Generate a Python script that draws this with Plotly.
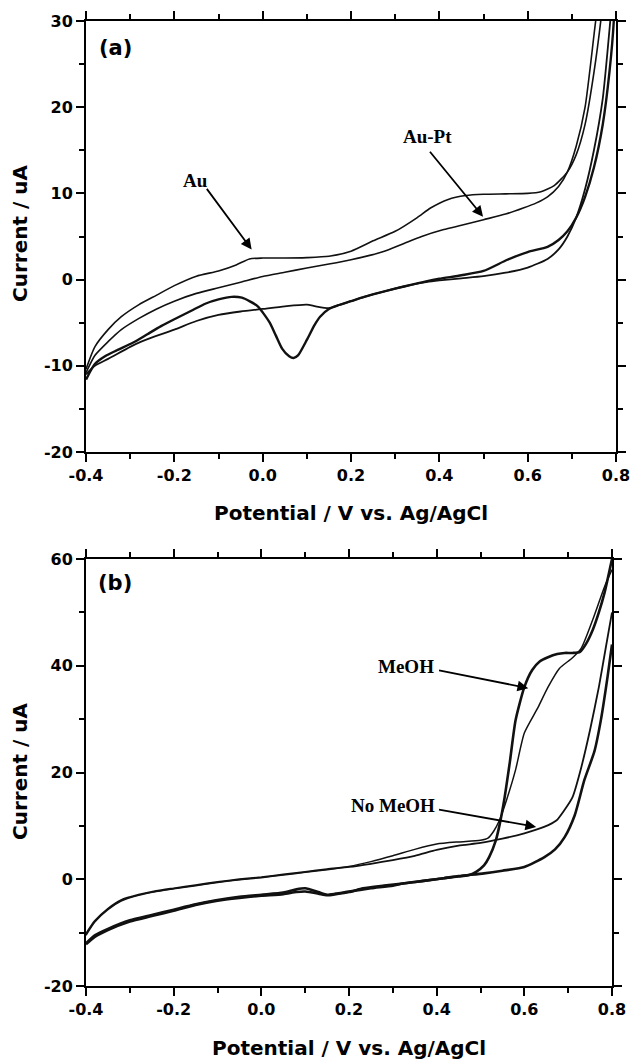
import plotly.graph_objects as go

# ---------------- Panel (a): Au and Au-Pt CVs ----------------
au_fwd_x = [-0.4, -0.38, -0.35, -0.32, -0.28, -0.24, -0.2, -0.15, -0.1, -0.06, -0.03, 0.0, 0.05, 0.1, 0.15,
            0.2, 0.25, 0.3, 0.35, 0.38, 0.42, 0.46, 0.5, 0.55, 0.6, 0.63, 0.66, 0.69, 0.71, 0.73, 0.75, 0.77, 0.8]
au_fwd_y = [-10.4, -7.8, -5.8, -4.3, -2.9, -1.8, -0.7, 0.4, 1.0, 1.7, 2.4, 2.5, 2.5, 2.55, 2.7,
            3.3, 4.5, 5.6, 7.2, 8.3, 9.3, 9.75, 9.9, 9.95, 10.0, 10.2, 10.9, 12.5, 14.5, 18.0, 24.0, 32.0, 48.0]

au_rev_x = [0.8, 0.795, 0.785, 0.77, 0.75, 0.73, 0.71, 0.69, 0.67, 0.645, 0.6, 0.554, 0.5, 0.45, 0.4, 0.37,
            0.32, 0.28, 0.23, 0.2, 0.17, 0.15, 0.13, 0.117, 0.1, 0.08, 0.07, 0.06, 0.044, 0.03, 0.016, 0.0,
            -0.011, -0.03, -0.047, -0.07, -0.1, -0.13, -0.157, -0.2, -0.23, -0.26, -0.293, -0.33, -0.357,
            -0.38, -0.4]
au_rev_y = [40.0, 30.0, 24.0, 18.0, 13.0, 9.6, 7.2, 5.6, 4.6, 3.8, 3.2, 2.3, 1.0, 0.5, 0.1, -0.2,
            -0.8, -1.3, -2.0, -2.5, -3.0, -3.4, -4.3, -5.3, -7.0, -8.8, -9.1, -8.9, -8.0, -6.5, -5.0, -3.8,
            -3.1, -2.5, -2.1, -2.0, -2.3, -2.8, -3.5, -4.6, -5.4, -6.3, -7.3, -8.2, -8.9,
            -9.8, -11.6]

aupt_fwd_x = [-0.4, -0.38, -0.35, -0.32, -0.28, -0.24, -0.2, -0.15, -0.1, -0.05, 0.0, 0.05, 0.1, 0.15, 0.2,
              0.27, 0.32, 0.36, 0.41, 0.45, 0.5, 0.55, 0.59, 0.62, 0.645, 0.67, 0.69, 0.71, 0.73, 0.754,
              0.78, 0.8]
aupt_fwd_y = [-10.8, -8.8, -7.2, -5.8, -4.5, -3.4, -2.5, -1.6, -0.95, -0.3, 0.37, 0.85, 1.35, 1.8, 2.3,
              3.2, 4.2, 5.0, 5.8, 6.3, 6.95, 7.6, 8.3, 8.9, 9.6, 10.8, 12.5, 15.5, 20.0, 30.0,
              40.0, 50.0]

aupt_rev_x = [0.8, 0.787, 0.77, 0.75, 0.73, 0.71, 0.69, 0.67, 0.645, 0.6, 0.55, 0.5, 0.45, 0.4, 0.37,
              0.32, 0.28, 0.23, 0.2, 0.17, 0.15, 0.12, 0.1, 0.05, 0.0, -0.05, -0.1, -0.15, -0.2, -0.25,
              -0.275, -0.3, -0.35, -0.38, -0.4]
aupt_rev_y = [38.0, 30.0, 21.0, 15.0, 10.5, 7.2, 5.0, 3.5, 2.4, 1.4, 0.8, 0.4, 0.15, -0.1, -0.3,
              -0.8, -1.3, -2.0, -2.5, -3.0, -3.3, -3.1, -2.9, -3.1, -3.4, -3.7, -4.1, -4.8, -5.8, -6.7,
              -7.2, -7.8, -9.2, -10.0, -11.0]

# ---------------- Panel (b): MeOH and No MeOH CVs ----------------
nomeoh_fwd_x = [-0.4, -0.38, -0.35, -0.32, -0.28, -0.24, -0.2, -0.15, -0.1, -0.05, 0.0, 0.05, 0.1, 0.15,
                0.2, 0.25, 0.3, 0.35, 0.4, 0.45, 0.5, 0.55, 0.6, 0.645, 0.673, 0.69, 0.71, 0.73, 0.75,
                0.77, 0.785, 0.8]
nomeoh_fwd_y = [-10.2, -7.8, -5.5, -3.9, -2.9, -2.2, -1.7, -1.1, -0.5, 0.0, 0.4, 0.9, 1.4, 1.9,
                2.3, 2.9, 3.6, 4.4, 5.5, 6.3, 6.8, 7.6, 8.6, 9.8, 11.0, 12.8, 15.4, 21.0, 28.0,
                36.0, 43.0, 50.0]

nomeoh_rev_x = [0.8, 0.79, 0.775, 0.76, 0.737, 0.715, 0.692, 0.67, 0.645, 0.6, 0.55, 0.508, 0.45, 0.416,
                0.37, 0.323, 0.28, 0.232, 0.2, 0.17, 0.15, 0.13, 0.1, 0.08, 0.05, 0.0, -0.05, -0.1,
                -0.15, -0.2, -0.25, -0.3, -0.35, -0.38, -0.4]
nomeoh_rev_y = [44.0, 38.0, 30.0, 24.0, 18.6, 12.0, 7.9, 5.6, 4.1, 2.3, 1.6, 1.1, 0.6, 0.2,
                -0.3, -0.8, -1.2, -1.7, -2.4, -2.8, -3.0, -2.7, -2.3, -2.4, -2.8, -3.1, -3.5, -4.0,
                -4.8, -5.9, -6.9, -7.9, -9.5, -10.8, -12.2]

meoh_fwd_x = [-0.4, -0.38, -0.35, -0.32, -0.28, -0.24, -0.2, -0.15, -0.1, -0.05, 0.0, 0.05, 0.1, 0.15,
              0.2, 0.25, 0.3, 0.35, 0.4, 0.45, 0.5, 0.517, 0.53, 0.543, 0.56, 0.58, 0.6, 0.63, 0.654,
              0.68, 0.71, 0.73, 0.756, 0.783, 0.8]
meoh_fwd_y = [-10.5, -8.0, -5.7, -4.1, -3.0, -2.3, -1.8, -1.2, -0.6, -0.1, 0.3, 0.8, 1.3, 1.8,
              2.4, 3.3, 4.4, 5.6, 6.6, 7.0, 7.3, 7.7, 9.0, 11.0, 15.0, 20.5, 27.4, 32.0, 36.0,
              39.5, 41.5, 43.3, 48.6, 54.8, 58.0]

meoh_rev_x = [0.8, 0.783, 0.77, 0.756, 0.74, 0.727, 0.71, 0.692, 0.675, 0.654, 0.635, 0.618, 0.6, 0.58,
              0.567, 0.554, 0.543, 0.535, 0.52, 0.508, 0.49, 0.472, 0.45, 0.416, 0.4, 0.35, 0.323, 0.3,
              0.25, 0.2, 0.17, 0.15, 0.13, 0.1, 0.08, 0.05, 0.0, -0.05, -0.1, -0.15, -0.2, -0.25, -0.3,
              -0.35, -0.38, -0.4]
meoh_rev_y = [60.0, 53.7, 50.0, 46.7, 44.0, 42.6, 42.4, 42.4, 42.2, 41.6, 40.8, 39.2, 36.0, 29.8,
              22.0, 14.8, 10.0, 7.3, 4.2, 2.6, 1.4, 0.75, 0.5, 0.2, 0.0, -0.5, -0.8, -1.2,
              -1.7, -2.3, -2.7, -2.9, -2.4, -1.7, -1.9, -2.5, -2.9, -3.3, -3.9, -4.7, -5.7, -6.7, -7.7,
              -9.3, -10.5, -12.0]

# ---------------- Axis ticks ----------------
x_tickvals = [-0.4, -0.2, 0.0, 0.2, 0.4, 0.6, 0.8]
x_ticktext = ["-0.4", "-0.2", "0.0", "0.2", "0.4", "0.6", "0.8"]
ya_tickvals = [-20, -10, 0, 10, 20, 30]
ya_ticktext = ["-20", "-10", "0", "10", "20", "30"]
yb_tickvals = [-20, 0, 20, 40, 60]
yb_ticktext = ["-20", "0", "20", "40", "60"]

x_title = "Potential / V vs. Ag/AgCl"
y_title = "Current / uA"

LINE = "#111111"
fig = go.Figure()


def add_line(x, y, w, xa, ya):
    fig.add_trace(go.Scatter(x=x, y=y, mode="lines", xaxis=xa, yaxis=ya,
                             line=dict(color=LINE, width=w, shape="spline", smoothing=0.6),
                             showlegend=False, hoverinfo="skip"))


add_line(au_fwd_x, au_fwd_y, 1.6, "x", "y")
add_line(au_rev_x, au_rev_y, 2.4, "x", "y")
add_line(aupt_fwd_x, aupt_fwd_y, 1.6, "x", "y")
add_line(aupt_rev_x, aupt_rev_y, 1.8, "x", "y")

add_line(nomeoh_fwd_x, nomeoh_fwd_y, 1.8, "x2", "y2")
add_line(nomeoh_rev_x, nomeoh_rev_y, 2.6, "x2", "y2")
add_line(meoh_fwd_x, meoh_fwd_y, 1.5, "x2", "y2")
add_line(meoh_rev_x, meoh_rev_y, 2.6, "x2", "y2")

W, H = 633, 1062
XL, XR_A, XR_B = 86, 616, 612
tick_font = dict(family="DejaVu Sans", size=16, color="black", weight="bold")

common_ax = dict(showgrid=False, zeroline=False, showline=True, linecolor="black", linewidth=2,
                 mirror="ticks", ticks="outside", ticklen=8, tickwidth=2, tickcolor="black",
                 tickfont=tick_font, automargin=False, ticklabeloverflow="allow")

fig.update_layout(
    width=W, height=H, autosize=False,
    margin=dict(l=0, r=0, t=0, b=0),
    paper_bgcolor="white", plot_bgcolor="white",
    xaxis=dict(domain=[XL / W, XR_A / W], range=[-0.4, 0.8], tickvals=x_tickvals, ticktext=x_ticktext,
               minor=dict(dtick=0.1, tick0=-0.4, ticks="outside", ticklen=5, tickwidth=1.5, tickcolor="black"),
               anchor="y", **common_ax),
    yaxis=dict(domain=[1 - 452 / H, 1 - 21 / H], range=[-20, 30], tickvals=ya_tickvals, ticktext=ya_ticktext,
               minor=dict(dtick=5, tick0=0, ticks="outside", ticklen=5, tickwidth=1.5, tickcolor="black"),
               anchor="x", **common_ax),
    xaxis2=dict(domain=[XL / W, XR_B / W], range=[-0.4, 0.8], tickvals=x_tickvals, ticktext=x_ticktext,
                minor=dict(dtick=0.1, tick0=-0.4, ticks="outside", ticklen=5, tickwidth=1.5, tickcolor="black"),
                anchor="y2", **common_ax),
    yaxis2=dict(domain=[1 - 986 / H, 1 - 559 / H], range=[-20, 60], tickvals=yb_tickvals, ticktext=yb_ticktext,
                minor=dict(dtick=10, tick0=0, ticks="outside", ticklen=5, tickwidth=1.5, tickcolor="black"),
                anchor="x2", **common_ax),
)

title_font = dict(family="DejaVu Sans", size=20, color="black", weight="bold")
label_font = dict(family="DejaVu Sans", size=21, color="black", weight="bold")
note_font = dict(family="Liberation Serif", size=19, color="black", weight="bold")

annotations = [
    # axis titles
    dict(text=x_title, xref="paper", yref="paper", x=(XL + XR_A) / 2 / W, y=1 - 513 / H,
         xanchor="center", yanchor="middle", showarrow=False, font=title_font),
    dict(text=x_title, xref="paper", yref="paper", x=(XL + XR_B) / 2 / W, y=1 - 1048 / H,
         xanchor="center", yanchor="middle", showarrow=False, font=title_font),
    dict(text=y_title, xref="paper", yref="paper", x=20 / W, y=1 - 234 / H, textangle=-90,
         xanchor="center", yanchor="middle", showarrow=False, font=title_font),
    dict(text=y_title, xref="paper", yref="paper", x=20 / W, y=1 - 772 / H, textangle=-90,
         xanchor="center", yanchor="middle", showarrow=False, font=title_font),
    # panel labels
    dict(text="(a)", xref="x", yref="y", x=-0.334, y=26.9, showarrow=False, font=label_font),
    dict(text="(b)", xref="x2", yref="y2", x=-0.334, y=55.5, showarrow=False, font=label_font),
    # curve labels
    dict(text="Au", xref="x", yref="y", x=-0.152, y=11.5, showarrow=False, font=note_font),
    dict(text="Au-Pt", xref="x", yref="y", x=0.374, y=16.6, showarrow=False, font=note_font),
    dict(text="MeOH", xref="x2", yref="y2", x=0.331, y=39.8, showarrow=False, font=note_font),
    dict(text="No MeOH", xref="x2", yref="y2", x=0.301, y=13.9, showarrow=False, font=note_font),
]

arrow_common = dict(text="", showarrow=True, arrowhead=2, arrowsize=1.2, arrowwidth=1.8,
                    arrowcolor="black", standoff=0, startstandoff=0)
annotations += [
    dict(xref="x", yref="y", axref="x", ayref="y", x=-0.025, y=3.5, ax=-0.129, ay=10.7, **arrow_common),
    dict(xref="x", yref="y", axref="x", ayref="y", x=0.499, y=7.3, ax=0.376, ay=15.0, **arrow_common),
    dict(xref="x2", yref="y2", axref="x2", ayref="y2", x=0.609, y=35.8, ax=0.402, ay=39.2, **arrow_common),
    dict(xref="x2", yref="y2", axref="x2", ayref="y2", x=0.627, y=9.8, ax=0.402, ay=13.1, **arrow_common),
]
fig.update_layout(annotations=annotations)

# remove the page's default body margin / scrollbar so the figure sits at the window origin
page_js = "document.body.style.margin='0';document.body.style.overflow='hidden';"
fig.write_html("out.html", post_script=page_js, config={"displayModeBar": False})
